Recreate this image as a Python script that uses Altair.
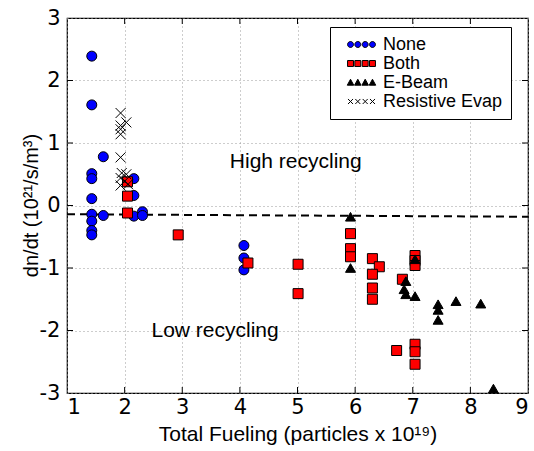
import altair as alt
import pandas as pd

# ---- data ----
series_names = ["None", "Both", "E-Beam", "Resistive Evap"]

none_x = [1.43, 1.43, 1.63, 1.43, 1.43, 1.43, 1.43, 1.43, 1.43, 1.43, 1.63, 2.16, 2.16, 2.16, 2.31, 2.31, 4.07, 4.07, 4.07]
none_y = [2.39, 1.61, 0.78, 0.51, 0.43, 0.11, -0.14, -0.25, -0.40, -0.47, -0.16, 0.43, 0.16, -0.17, -0.10, -0.16, -0.64, -0.84, -1.03]

both_x = [2.05, 2.05, 2.05, 2.93, 4.14, 5.01, 5.01, 5.92, 5.92, 5.92, 6.30, 6.42, 6.30, 6.30, 6.30, 6.82, 7.04, 7.04, 7.04, 6.72, 7.04, 7.04, 7.04]
both_y = [0.38, 0.15, -0.12, -0.47, -0.92, -0.94, -1.41, -0.45, -0.69, -0.82, -0.85, -0.98, -1.10, -1.32, -1.50, -1.18, -0.80, -0.88, -0.96, -2.32, -2.22, -2.34, -2.54]

ebeam_x = [5.92, 5.92, 7.04, 6.88, 6.85, 6.88, 7.04, 7.44, 7.44, 7.44, 7.75, 8.18, 8.40]
ebeam_y = [-0.18, -1.00, -0.86, -1.21, -1.34, -1.42, -1.45, -1.58, -1.67, -1.83, -1.53, -1.57, -2.93]

resist_x = [1.93, 2.03, 1.93, 1.93, 1.93, 1.93, 1.95, 2.03, 1.93, 2.00, 1.93, 2.06]
resist_y = [1.48, 1.33, 1.28, 1.22, 1.14, 0.77, 0.52, 0.50, 0.44, 0.39, 0.32, 0.34]

thr_x = [1, 9]
thr_y = [-0.14, -0.18]

ann_x = [4.97, 3.57]
ann_y = [0.70, -2.01]
ann_text = ["High recycling", "Low recycling"]

x_ticks = [1, 2, 3, 4, 5, 6, 7, 8, 9]
y_ticks = [-3, -2, -1, 0, 1, 2, 3]

# ---- tables ----
rows = []
for name, xs, ys in [("None", none_x, none_y), ("Both", both_x, both_y),
                     ("E-Beam", ebeam_x, ebeam_y), ("Resistive Evap", resist_x, resist_y)]:
    for a, b in zip(xs, ys):
        rows.append({"fuel": a, "dndt": b, "series": name})
df = pd.DataFrame(rows)
thr_df = pd.DataFrame({"fuel": thr_x, "dndt": thr_y})
ann_df = pd.DataFrame({"fuel": ann_x, "dndt": ann_y, "label": ann_text})
xt_df = pd.DataFrame({"fuel": x_ticks[1:-1]})
yt_df = pd.DataFrame({"dndt": y_ticks[1:-1]})

W, H = 461, 375
TICK_FONT = "DejaVu Sans"
TEXT_FONT = "Liberation Sans"
TICK = 6

xscale = alt.Scale(domain=[1, 9], nice=False, zero=False)
yscale = alt.Scale(domain=[-3, 3], nice=False, zero=False)
x_title = "Total Fueling (particles x 10\u00b9\u2079)"
y_title = "dn/dt (10\u00b2\u00b9/s/m\u00b3)"
x_axis = alt.Axis(values=x_ticks, labelExpr="'' + datum.value", title=x_title,
                  labelPadding=3, titlePadding=6, titleFontSize=21)
y_axis = alt.Axis(values=y_ticks, labelExpr="'' + datum.value", title=y_title,
                  labelPadding=7, titleFontSize=20, titleX=-26, titleY=187)


def X():
    return alt.X("fuel:Q", scale=xscale, axis=x_axis)


def Y():
    return alt.Y("dndt:Q", scale=yscale, axis=y_axis)


X_PATH = "M-1,-1L1,1M-1,1L1,-1"
marker_shapes = ["circle", "square", "triangle-up", X_PATH]
fills = ["#0000ff", "#ff0000", "#000000", "transparent"]
strokes = ["#000000", "#000000", "#000000", "#000000"]

points = alt.Chart(df).mark_point(filled=True, size=100, strokeWidth=1, opacity=1).encode(
    x=X(), y=Y(),
    shape=alt.Shape("series:N", scale=alt.Scale(domain=series_names, range=marker_shapes), legend=None),
    fill=alt.Fill("series:N", scale=alt.Scale(domain=series_names, range=fills), legend=None),
    stroke=alt.Stroke("series:N", scale=alt.Scale(domain=series_names, range=strokes), legend=None),
)

# legend symbols: four small markers per row, as in the reference
cx = [-1.22, -0.41, 0.41, 1.22]
r = 0.33
circ = "".join(f"M{c - r:.2f},0A{r},{r},0,1,0,{c + r:.2f},0A{r},{r},0,1,0,{c - r:.2f},0Z" for c in cx)
sq = "".join(f"M{c - r:.2f},{-r}H{c + r:.2f}V{r}H{c - r:.2f}Z" for c in cx)
tri = "".join(f"M{c:.2f},-0.36L{c + 0.36:.2f},0.3L{c - 0.36:.2f},0.3Z" for c in cx)
xx = "".join(f"M{c - 0.28:.2f},-0.28L{c + 0.28:.2f},0.28M{c - 0.28:.2f},0.28L{c + 0.28:.2f},-0.28" for c in cx)
legend_shapes = [circ, sq, tri, xx]

leg = alt.Legend(title=None, orient="none", legendX=263, legendY=9,
                 fillColor="white", strokeColor="black", padding=8,
                 labelFont=TEXT_FONT, labelFontSize=18, labelColor="black",
                 symbolSize=324, symbolStrokeWidth=1, symbolOffset=14,
                 labelOffset=12, rowPadding=0)

legend_layer = alt.Chart(df).transform_filter("false").mark_point(
    filled=True, size=324, strokeWidth=1, opacity=1).encode(
    x=X(), y=Y(),
    shape=alt.Shape("series:N", scale=alt.Scale(domain=series_names, range=legend_shapes), legend=leg),
    fill=alt.Fill("series:N", scale=alt.Scale(domain=series_names, range=fills), legend=leg),
    stroke=alt.Stroke("series:N", scale=alt.Scale(domain=series_names, range=strokes), legend=leg),
)

threshold = alt.Chart(thr_df).mark_line(color="black", strokeDash=[8, 5], strokeWidth=2).encode(
    x=X(), y=Y())

ann = alt.Chart(ann_df).mark_text(font=TEXT_FONT, fontSize=21, color="black").encode(
    x=X(), y=Y(), text="label:N")

tick_bottom = alt.Chart(xt_df).mark_rule(color="black").encode(
    x=X(), y=alt.value(H), y2=alt.value(H - TICK))
tick_top = alt.Chart(xt_df).mark_rule(color="black").encode(
    x=X(), y=alt.value(0), y2=alt.value(TICK))
tick_left = alt.Chart(yt_df).mark_rule(color="black").encode(
    y=Y(), x=alt.value(0), x2=alt.value(TICK))
tick_right = alt.Chart(yt_df).mark_rule(color="black").encode(
    y=Y(), x=alt.value(W), x2=alt.value(W - TICK))

chart = alt.layer(
    tick_bottom, tick_top, tick_left, tick_right, threshold, ann, points, legend_layer
).resolve_scale(
    shape="independent", fill="independent", stroke="independent"
).properties(
    width=W, height=H,
    autosize=alt.AutoSizeParams(type="none"),
    padding={"left": 67, "top": 18, "right": 6, "bottom": 58},
    background="white",
).configure_view(
    stroke="black", strokeWidth=1.2
).configure_axis(
    grid=True, gridColor="#9a9a9a", gridDash=[1, 3], gridWidth=1,
    domain=False, ticks=False,
    labelFont=TICK_FONT, labelFontSize=21, labelColor="black",
    titleFont=TEXT_FONT, titleColor="black", titleFontWeight="normal",
)

chart.save("out.html", embed_options={"renderer": "svg", "actions": False})
